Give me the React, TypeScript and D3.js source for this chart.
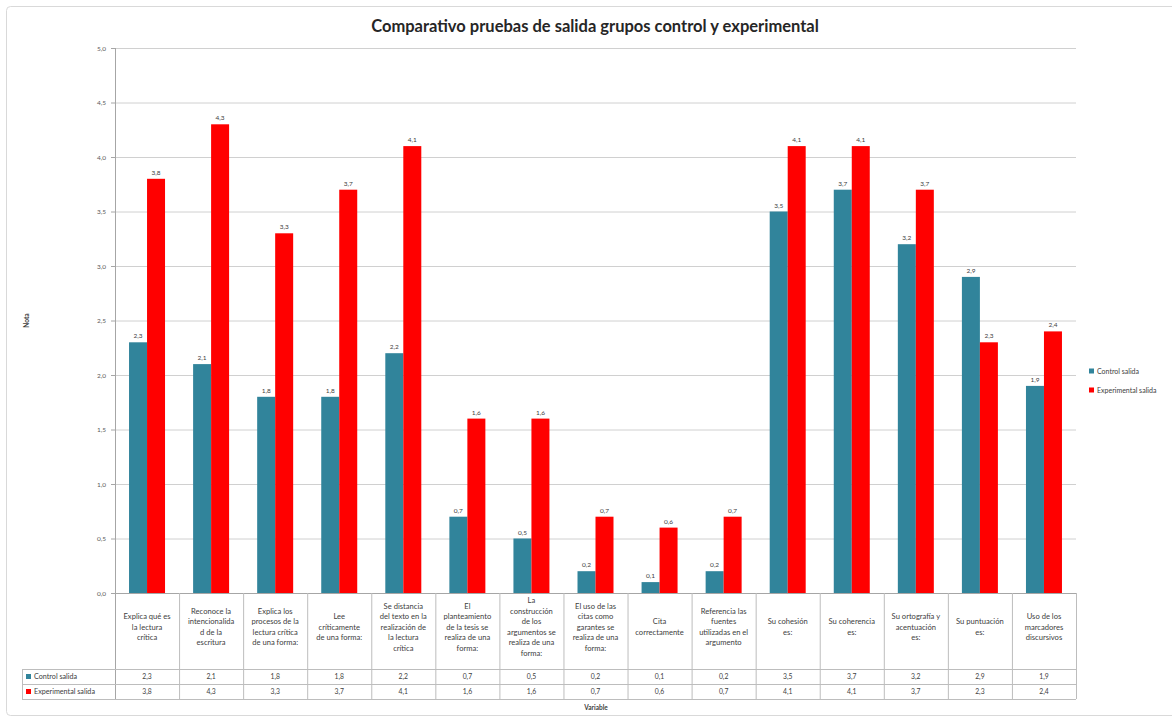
import React from "react";
import * as d3 from "d3";

// Category labels, pre-wrapped as they appear in the table cells
const categories = [
  "Explica qué es\nla lectura\ncrítica",
  "Reconoce la\nintencionalida\nd de la\nescritura",
  "Explica los\nprocesos de la\nlectura crítica\nde una forma:",
  "Lee\ncríticamente\nde una forma:",
  "Se distancia\ndel texto en la\nrealización de\nla lectura\ncrítica",
  "El\nplanteamiento\nde la tesis se\nrealiza de una\nforma:",
  "La\nconstrucción\nde los\nargumentos se\nrealiza de una\nforma:",
  "El uso de las\ncitas como\ngarantes se\nrealiza de una\nforma:",
  "Cita\ncorrectamente",
  "Referencia las\nfuentes\nutilizadas en el\nargumento",
  "Su cohesión\nes:",
  "Su coherencia\nes:",
  "Su ortografía y\nacentuación\nes:",
  "Su puntuación\nes:",
  "Uso de los\nmarcadores\ndiscursivos",
];

const seriesNames = ["Control salida", "Experimental salida"];
const seriesColors = ["#31849B", "#FF0000"];

const controlSalida = [2.3, 2.1, 1.8, 1.8, 2.2, 0.7, 0.5, 0.2, 0.1, 0.2, 3.5, 3.7, 3.2, 2.9, 1.9];
const experimentalSalida = [3.8, 4.3, 3.3, 3.7, 4.1, 1.6, 1.6, 0.7, 0.6, 0.7, 4.1, 4.1, 3.7, 2.3, 2.4];

const yTicks = [0, 0.5, 1, 1.5, 2, 2.5, 3, 3.5, 4, 4.5, 5];

const title = "Comparativo pruebas de salida grupos control y experimental";
const yTitle = "Nota";
const xTitle = "Variable";

const W = 1172;
const H = 724;
const FONT = "Lato, 'Open Sans', sans-serif";

const fmt = (v: number) => v.toFixed(1).replace(".", ",");

export default function App() {
  const plotLeft = 115;
  const plotRight = 1076;
  const plotTop = 48;
  const plotBottom = 593;

  const tableLeft = 22;
  const row1Top = 669;
  const row2Top = 684;
  const tableBottom = 699;

  const y = d3.scaleLinear().domain([0, 5]).range([plotBottom, plotTop]);
  const x0 = d3
    .scaleBand<string>()
    .domain(categories.map((_, i) => String(i)))
    .range([plotLeft, plotRight])
    .padding(0);
  const x1 = d3
    .scaleBand<string>()
    .domain(seriesNames)
    .range([0, x0.bandwidth()])
    .paddingInner(0)
    .paddingOuter(0.78);

  const series = [controlSalida, experimentalSalida];
  const gridColor = "#D0D0D0";
  const tableColor = "#BDBDBD";
  const textColor = "#404040";

  return (
    <svg
      width={W}
      height={H}
      style={{ position: "absolute", left: 0, top: 0, background: "#fff" }}
      fontFamily={FONT}
    >
      {/* chart frame */}
      <rect x={6.5} y={6.5} width={W + 20} height={709} fill="#fff" stroke="#D9D9D9" rx={4} />

      {/* title */}
      <text x={595} y={32} textAnchor="middle" fontSize={16.5} fontWeight="bold" fill="#262626">
        {title}
      </text>

      {/* gridlines and y ticks */}
      {yTicks.map((t) => (
        <g key={t}>
          {t > 0 && (
            <line x1={plotLeft} x2={plotRight} y1={y(t) + 0.5} y2={y(t) + 0.5} stroke={gridColor} />
          )}
          <line x1={plotLeft - 4} x2={plotLeft} y1={y(t) + 0.5} y2={y(t) + 0.5} stroke="#A6A6A6" />
          <text x={plotLeft - 9} y={y(t) + 2.5} textAnchor="end" fontSize={6.5} fill="#595959">
            {fmt(t)}
          </text>
        </g>
      ))}

      {/* y title */}
      <text
        transform={`translate(29,${(plotTop + plotBottom) / 2}) rotate(-90)`}
        textAnchor="middle"
        fontSize={6.5}
        fontWeight="bold"
        fill={textColor}
      >
        {yTitle}
      </text>

      {/* bars */}
      {categories.map((_, i) => (
        <g key={i} transform={`translate(${x0(String(i))},0)`}>
          {seriesNames.map((s, j) => {
            const v = series[j][i];
            const bx = x1(s)!;
            return (
              <g key={s}>
                <rect
                  x={bx}
                  y={y(v)}
                  width={x1.bandwidth()}
                  height={plotBottom - y(v)}
                  fill={seriesColors[j]}
                />
                <text
                  x={bx + x1.bandwidth() / 2}
                  y={y(v) - 4}
                  textAnchor="middle"
                  fontSize={6.5}
                  fill={textColor}
                >
                  {fmt(v)}
                </text>
              </g>
            );
          })}
        </g>
      ))}

      {/* y axis line */}
      <line x1={plotLeft + 0.5} x2={plotLeft + 0.5} y1={plotTop} y2={tableBottom} stroke="#A6A6A6" />
      {/* x axis line */}
      <line x1={plotLeft} x2={plotRight} y1={plotBottom + 0.5} y2={plotBottom + 0.5} stroke="#A6A6A6" />

      {/* data table grid */}
      {categories.map((_, i) => {
        const xr = x0(String(i))! + x0.bandwidth();
        return (
          <line key={i} x1={xr + 0.5} x2={xr + 0.5} y1={plotBottom} y2={tableBottom} stroke={tableColor} />
        );
      })}
      <line x1={tableLeft + 0.5} x2={tableLeft + 0.5} y1={row1Top} y2={tableBottom} stroke={tableColor} />
      {[row1Top, row2Top, tableBottom].map((ry) => (
        <line key={ry} x1={tableLeft} x2={plotRight} y1={ry + 0.5} y2={ry + 0.5} stroke={tableColor} />
      ))}

      {/* category labels */}
      {categories.map((c, i) => {
        const lines = c.split("\n");
        const cx = x0(String(i))! + x0.bandwidth() / 2;
        const lh = 10.5;
        const startY = 627 - ((lines.length - 1) * lh) / 2 + 2.5;
        return (
          <text key={i} textAnchor="middle" fontSize={7.6} fill={textColor}>
            {lines.map((l, k) => (
              <tspan key={k} x={cx} y={startY + k * lh}>
                {l}
              </tspan>
            ))}
          </text>
        );
      })}

      {/* row headers and values */}
      {seriesNames.map((s, j) => {
        const rowTop = j === 0 ? row1Top : row2Top;
        const cy = rowTop + 7.5;
        return (
          <g key={s}>
            <rect x={26} y={cy - 2.5} width={5} height={5} fill={seriesColors[j]} />
            <text x={34} y={cy + 2.5} fontSize={7.2} fill={textColor}>
              {s}
            </text>
            {series[j].map((v, i) => (
              <text
                key={i}
                x={x0(String(i))! + x0.bandwidth() / 2}
                y={cy + 2.5}
                textAnchor="middle"
                fontSize={6.8}
                fill={textColor}
              >
                {fmt(v)}
              </text>
            ))}
          </g>
        );
      })}

      {/* x title */}
      <text x={596} y={710} textAnchor="middle" fontSize={6.5} fontWeight="bold" fill={textColor}>
        {xTitle}
      </text>

      {/* legend */}
      {seriesNames.map((s, j) => (
        <g key={s} transform={`translate(1089,${371 + j * 19})`}>
          <rect x={0} y={-2.5} width={5} height={5} fill={seriesColors[j]} />
          <text x={8} y={2.5} fontSize={7} fill={textColor}>
            {s}
          </text>
        </g>
      ))}
    </svg>
  );
}
